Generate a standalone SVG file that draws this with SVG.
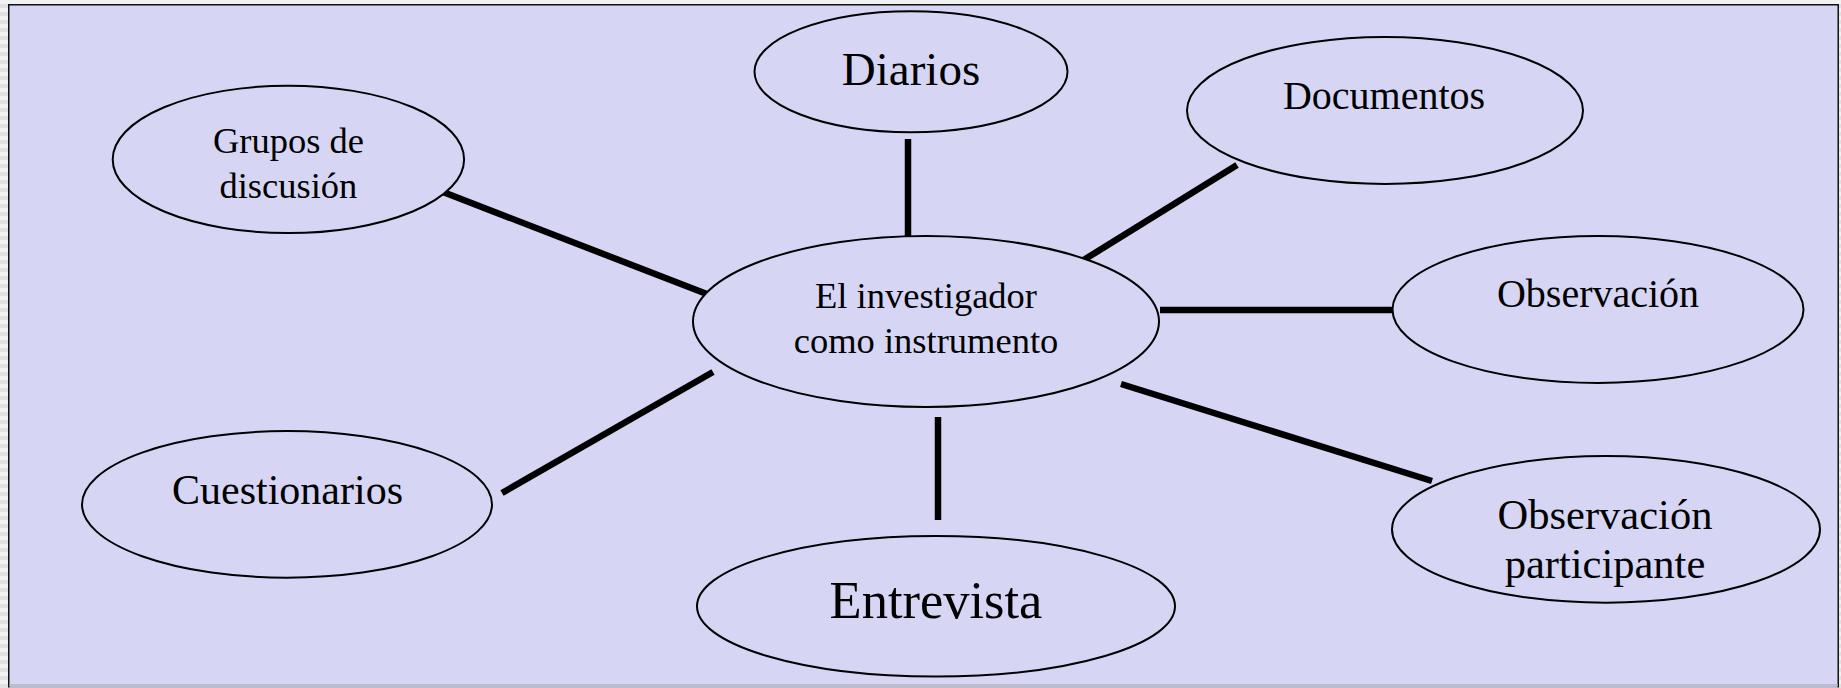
<svg xmlns="http://www.w3.org/2000/svg" width="1841" height="688" viewBox="0 0 1841 688">
<style>
.node ellipse{fill:#D6D6F4;stroke:#000;stroke-width:2}
.node text{font-family:"Liberation Serif","Times New Roman",serif;fill:#000;text-anchor:middle}
.conn line{stroke:#000;stroke-width:6.5;stroke-linecap:butt}
</style>
<defs>
<pattern id="stripes" width="8" height="8" patternUnits="userSpaceOnUse">
<rect width="8" height="8" fill="#F2F2F2"/>
<rect y="4" width="8" height="4" fill="#E2E2E2"/>
</pattern>
</defs>
<rect x="0" y="0" width="1841" height="688" fill="url(#stripes)"/>
<rect x="8.75" y="4.75" width="1829.5" height="682" fill="#D6D6F4" stroke="#111" stroke-width="1.5"/>
<rect x="9.5" y="684" width="1828" height="4" fill="#BCBCCE"/>
<g id="connectors" class="conn">
<line x1="908" y1="139" x2="908" y2="237"/>
<line x1="1237" y1="165" x2="1082" y2="261"/>
<line x1="1160" y1="310" x2="1393" y2="310"/>
<line x1="1121" y1="384" x2="1432" y2="481"/>
<line x1="938" y1="417" x2="938" y2="520"/>
<line x1="502" y1="493" x2="713" y2="372"/>
<line x1="443" y1="192" x2="712" y2="296"/>
</g>
<g id="node-center" class="node">
<ellipse cx="926" cy="321.5" rx="233" ry="85.5"/>
<text x="926" y="308" font-size="36.5">El investigador</text>
<text x="926" y="353" font-size="36.5">como instrumento</text>
</g>
<g id="node-diarios" class="node">
<ellipse cx="911" cy="71.7" rx="156.5" ry="60.5"/>
<text x="911" y="84.5" font-size="47">Diarios</text>
</g>
<g id="node-documentos" class="node">
<ellipse cx="1385" cy="110.5" rx="198" ry="73.5"/>
<text x="1384" y="108.5" font-size="40">Documentos</text>
</g>
<g id="node-observacion" class="node">
<ellipse cx="1598" cy="309.5" rx="205.5" ry="73.4"/>
<text x="1598" y="306.5" font-size="40">Observación</text>
</g>
<g id="node-obs-participante" class="node">
<ellipse cx="1606" cy="529.4" rx="214" ry="73.3"/>
<text x="1605" y="529.3" font-size="42.5">Observación</text>
<text x="1605" y="578.3" font-size="42.5">participante</text>
</g>
<g id="node-entrevista" class="node">
<ellipse cx="936" cy="606.3" rx="239" ry="70.3"/>
<text x="936" y="618" font-size="52.5">Entrevista</text>
</g>
<g id="node-cuestionarios" class="node">
<ellipse cx="287" cy="504.4" rx="205" ry="73.3"/>
<text x="287.5" y="503.7" font-size="42">Cuestionarios</text>
</g>
<g id="node-grupos" class="node">
<ellipse cx="288.4" cy="159.4" rx="175.7" ry="73.7"/>
<text x="288.4" y="153" font-size="36.5">Grupos de</text>
<text x="288.4" y="197.7" font-size="36.5">discusión</text>
</g>
</svg>
